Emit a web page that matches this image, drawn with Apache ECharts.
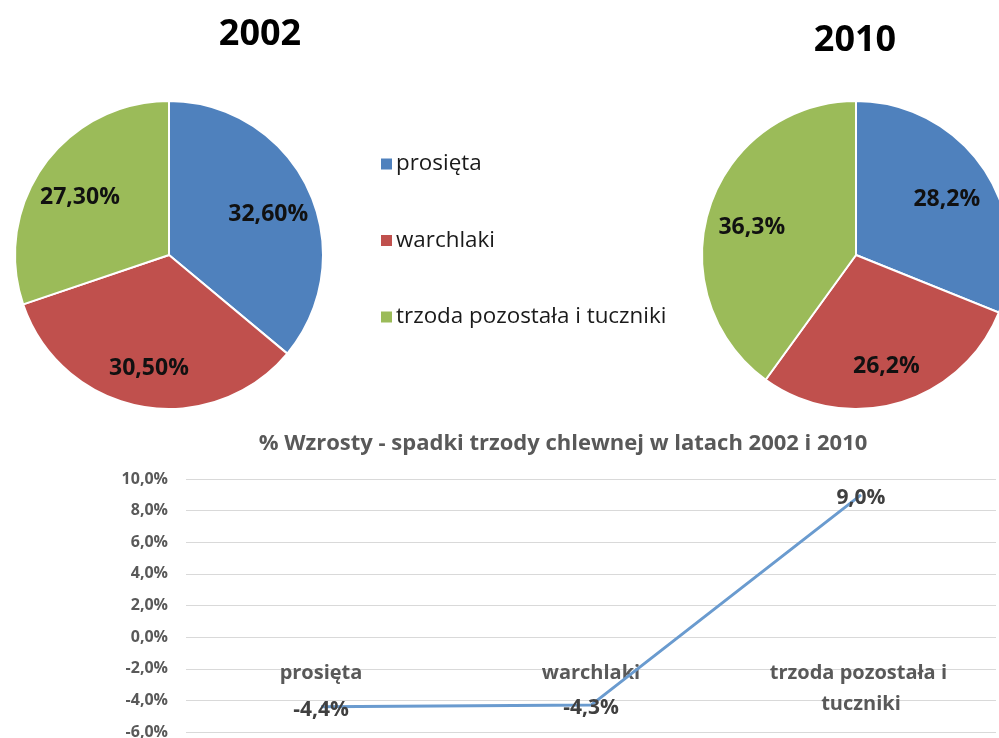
<!DOCTYPE html>
<html>
<head>
<meta charset="utf-8">
<script src="https://cdn.jsdelivr.net/npm/echarts@6/dist/echarts.min.js"></script>
<style>
  html, body { margin: 0; padding: 0; background: #ffffff; }
  #chart { width: 999px; height: 738px; }
</style>
</head>
<body>
<div id="chart"></div>
<script>
// Struktura stada trzody chlewnej (udział %) oraz zmiany między latami
const categories = ['prosięta', 'warchlaki', 'trzoda pozostała i tuczniki'];
const share2002 = [32.6, 30.5, 27.3];
const share2010 = [28.2, 26.2, 36.3];
const changePct = [-4.4, -4.3, 9.0];
const yMin = -6, yMax = 10, yStep = 2;

const colors = ['#4f81bd', '#c0504d', '#9bbb59'];
const FONT = '"Open Sans", "Noto Sans", sans-serif';

const pieR = 154;
const center2002 = [169, 255];
const center2010 = [856, 255];

const pct = (v, d) => v.toFixed(d).replace('.', ',') + '%';

// push pie labels outward from the default half-radius spot, nudged slightly down
function outwardLabels(c, k, dy) {
  return function (p) {
    const r = p.labelRect;
    const lx = r.x + r.width / 2, ly = r.y + r.height / 2;
    return { x: c[0] + (lx - c[0]) * k, y: c[1] + (ly - c[1]) * k + dy };
  };
}

function pieSeries(name, values, c, decimals) {
  return {
    name: name,
    type: 'pie',
    center: c,
    radius: [0, pieR],
    startAngle: 90,
    clockwise: true,
    avoidLabelOverlap: false,
    itemStyle: { borderColor: '#ffffff', borderWidth: 2 },
    label: {
      show: true,
      position: 'inside',
      fontFamily: FONT,
      fontWeight: 'bold',
      fontSize: 23,
      color: '#111111',
      formatter: p => pct(p.value, decimals)
    },
    labelLine: { show: false },
    labelLayout: outwardLabels(c, 1.37, 6),
    emphasis: { disabled: true },
    data: categories.map((n, i) => ({ name: n, value: values[i] }))
  };
}

const chart = echarts.init(document.getElementById('chart'), null, { renderer: 'canvas' });

chart.setOption({
  backgroundColor: '#ffffff',
  animation: false,
  color: colors,
  title: [
    { text: '2002', left: 255, top: 12, textAlign: 'center',
      textStyle: { fontFamily: FONT, fontWeight: 'bold', fontSize: 36, color: '#000000' } },
    { text: '2010', left: 850, top: 18, textAlign: 'center',
      textStyle: { fontFamily: FONT, fontWeight: 'bold', fontSize: 36, color: '#000000' } },
    { text: '% Wzrosty - spadki trzody chlewnej w latach 2002 i 2010', left: 558, top: 428, textAlign: 'center',
      textStyle: { fontFamily: FONT, fontWeight: 'bold', fontSize: 22, color: '#595959' } }
  ],
  legend: {
    orient: 'vertical',
    left: 374,
    top: 147,
    icon: 'rect',
    itemWidth: 13,
    itemHeight: 13,
    itemGap: 52.5,
    selectedMode: false,
    textStyle: { fontFamily: FONT, fontSize: 22.4, lineHeight: 24, color: '#1a1a1a', padding: [0, 0, 0, -2] },
    data: categories
  },
  grid: {
    left: 186, right: 3, top: 479, bottom: 6,
    containLabel: false,
    outerBoundsMode: 'none'
  },
  xAxis: {
    type: 'category',
    data: categories,
    boundaryGap: true,
    axisLine: { show: false, onZero: false },
    axisTick: { show: false },
    axisLabel: {
      // labels sit just under the 0% line, above the -2% ... -4% band
      margin: -74,
      fontFamily: FONT,
      fontWeight: 'bold',
      fontSize: 20,
      color: '#595959',
      lineHeight: 31,
      width: 225,
      overflow: 'break',
      interval: 0,
      hideOverlap: false
    }
  },
  yAxis: {
    type: 'value',
    min: yMin, max: yMax, interval: yStep,
    axisLine: { show: false },
    axisTick: { show: false },
    splitLine: { lineStyle: { color: '#d9d9d9', width: 1 } },
    axisLabel: {
      margin: 18,
      fontFamily: FONT,
      fontWeight: 'bold',
      fontSize: 16,
      color: '#595959',
      formatter: v => pct(v, 1)
    }
  },
  series: [
    pieSeries('2002', share2002, center2002, 2),
    pieSeries('2010', share2010, center2010, 1),
    {
      name: 'zmiana',
      type: 'line',
      data: changePct,
      symbol: 'circle',
      symbolSize: 2,
      showSymbol: true,
      itemStyle: { color: 'rgba(0,0,0,0)' },
      lineStyle: { color: '#6a9bcf', width: 3 },
      label: {
        show: true,
        position: 'inside',
        offset: [0, 3],
        fontFamily: FONT,
        fontWeight: 'bold',
        fontSize: 21,
        color: '#404040',
        formatter: p => pct(p.value, 1)
      },
      emphasis: { disabled: true }
    }
  ]
});
</script>
</body>
</html>
